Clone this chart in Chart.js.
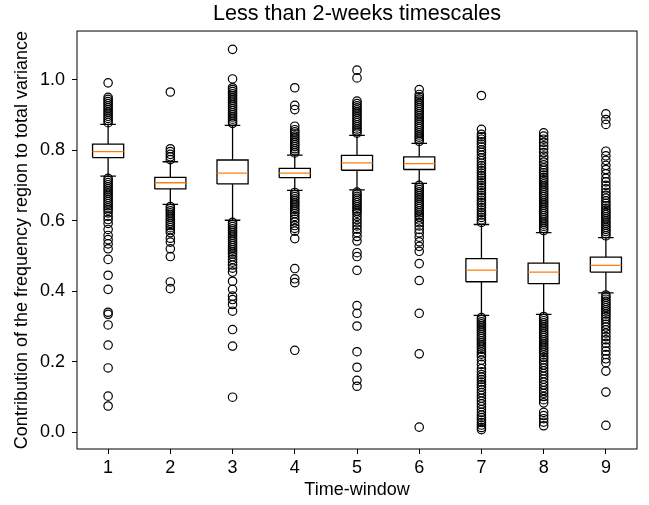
<!DOCTYPE html>
<html>
<head>
<meta charset="utf-8">
<script src="https://cdn.jsdelivr.net/npm/chart.js@4"></script>
<style>
body { margin: 0; background: #fff; }
#wrap { width: 649px; height: 505px; }
</style>
</head>
<body>
<div id="wrap"><canvas id="boxChart"></canvas></div>
<script>
// time windows and box statistics
const windows = [1, 2, 3, 4, 5, 6, 7, 8, 9];
const q1 = [0.779, 0.690, 0.704, 0.722, 0.743, 0.745, 0.4265, 0.421, 0.454];
const medians = [0.796, 0.7075, 0.735, 0.735, 0.764, 0.762, 0.4597, 0.454, 0.473];
const q3 = [0.817, 0.7225, 0.772, 0.748, 0.785, 0.781, 0.492, 0.4795, 0.4965];
const whiskerLow = [0.726, 0.646, 0.601, 0.686, 0.687, 0.7055, 0.331, 0.334, 0.395];
const whiskerHigh = [0.873, 0.767, 0.870, 0.786, 0.842, 0.819, 0.589, 0.566, 0.5515];
const yTicks = [0.0, 0.2, 0.4, 0.6, 0.8, 1.0];

// outliers per window (dense clusters estimated)
const fliers = [
  [0.878,0.884,0.890,0.896,0.902,0.908,0.914,0.920,0.926,0.932,0.938,0.944,0.950,0.991,
   0.720,0.714,0.708,0.702,0.696,0.690,0.684,0.678,0.672,0.666,0.660,0.654,0.648,0.642,0.636,0.630,
   0.622,0.612,0.603,0.592,0.575,0.558,0.546,0.534,0.520,0.490,0.445,0.405,0.340,0.334,0.304,0.247,0.182,0.102,0.074],
  [0.773,0.781,0.788,0.796,0.804,0.965,
   0.640,0.634,0.628,0.622,0.616,0.610,0.604,0.598,0.592,0.586,0.580,0.574,0.566,0.550,0.539,0.520,0.498,0.426,0.407],
  [0.876,0.882,0.888,0.894,0.900,0.906,0.912,0.918,0.924,0.930,0.936,0.942,0.948,0.954,0.960,0.966,0.972,0.977,1.002,1.086,
   0.595,0.589,0.583,0.577,0.571,0.565,0.559,0.553,0.547,0.541,0.535,0.529,0.523,0.517,0.511,0.505,0.498,0.490,0.482,0.474,
   0.465,0.454,0.428,0.405,0.386,0.376,0.362,0.343,0.291,0.244,0.099],
  [0.792,0.798,0.804,0.810,0.816,0.822,0.828,0.834,0.840,0.846,0.852,0.858,0.868,0.915,0.927,0.977,
   0.680,0.674,0.668,0.662,0.656,0.650,0.644,0.638,0.632,0.626,0.620,0.612,0.604,0.596,0.586,0.578,0.570,0.549,0.464,0.435,0.424,0.232],
  [0.848,0.854,0.860,0.866,0.872,0.878,0.884,0.890,0.896,0.902,0.908,0.914,0.920,0.926,0.932,0.939,1.005,1.027,
   0.681,0.675,0.669,0.663,0.657,0.651,0.645,0.639,0.633,0.627,0.621,0.612,0.603,0.594,0.585,0.576,0.566,0.555,0.542,
   0.509,0.498,0.459,0.359,0.337,0.301,0.228,0.184,0.147,0.130],
  [0.825,0.831,0.837,0.843,0.849,0.855,0.861,0.867,0.873,0.879,0.885,0.891,0.897,0.903,0.909,0.915,0.921,0.927,0.933,0.939,0.945,0.951,0.958,0.972,
   0.700,0.694,0.688,0.682,0.676,0.670,0.664,0.658,0.652,0.646,0.640,0.634,0.628,0.622,0.616,0.610,0.602,0.594,0.585,0.575,0.565,0.553,0.540,0.527,0.513,
   0.478,0.430,0.337,0.222,0.014],
  [0.595,0.602,0.609,0.616,0.623,0.630,0.637,0.644,0.651,0.658,0.665,0.672,0.679,0.686,0.693,0.700,0.707,0.714,0.721,0.728,0.735,0.742,0.749,0.756,
   0.763,0.770,0.778,0.786,0.794,0.801,0.809,0.817,0.824,0.831,0.838,0.845,0.859,0.955,
   0.325,0.319,0.313,0.307,0.301,0.295,0.289,0.283,0.277,0.271,0.265,0.259,0.253,0.247,0.241,0.235,0.228,0.221,0.214,0.204,0.192,0.180,0.171,0.163,
   0.156,0.149,0.142,0.135,0.128,0.120,0.112,0.104,0.096,0.088,0.080,0.072,0.064,0.056,0.048,0.041,0.034,0.027,0.020,0.013,0.007],
  [0.572,0.578,0.584,0.590,0.596,0.602,0.608,0.614,0.620,0.626,0.632,0.638,0.644,0.650,0.656,0.662,0.668,0.674,0.680,0.686,0.692,0.698,0.704,0.710,
   0.716,0.722,0.729,0.736,0.743,0.750,0.758,0.766,0.775,0.783,0.793,0.803,0.812,0.822,0.831,0.840,0.849,
   0.328,0.322,0.316,0.310,0.304,0.298,0.292,0.286,0.280,0.274,0.268,0.262,0.256,0.250,0.244,0.238,0.232,0.226,0.219,0.212,0.205,0.198,0.190,0.182,
   0.174,0.166,0.158,0.150,0.142,0.134,0.126,0.118,0.110,0.101,0.092,0.083,0.056,0.047,0.038,0.028,0.018],
  [0.557,0.563,0.569,0.575,0.581,0.587,0.593,0.599,0.605,0.611,0.617,0.623,0.629,0.635,0.642,0.649,0.656,0.664,0.672,0.680,0.690,0.700,0.710,0.720,
   0.733,0.745,0.757,0.771,0.784,0.797,0.873,0.887,0.903,
   0.389,0.383,0.377,0.371,0.365,0.359,0.353,0.347,0.341,0.335,0.328,0.321,0.314,0.306,0.298,0.290,0.281,0.271,0.262,0.252,0.241,0.230,0.220,0.208,
   0.197,0.173,0.1135,0.019]
];

const boxHalf = 0.25;
const capHalf = 0.125;

// build line paths in data units, split by nulls
const boxPts = [], whiskerPts = [], medianPts = [], flierPts = [];
windows.forEach((x, i) => {
  boxPts.push({x: x - boxHalf, y: q1[i]}, {x: x + boxHalf, y: q1[i]}, {x: x + boxHalf, y: q3[i]},
              {x: x - boxHalf, y: q3[i]}, {x: x - boxHalf, y: q1[i]}, {x: x, y: null});
  whiskerPts.push({x: x, y: q1[i]}, {x: x, y: whiskerLow[i]}, {x: x, y: null},
                  {x: x, y: q3[i]}, {x: x, y: whiskerHigh[i]}, {x: x, y: null},
                  {x: x - capHalf, y: whiskerLow[i]}, {x: x + capHalf, y: whiskerLow[i]}, {x: x, y: null},
                  {x: x - capHalf, y: whiskerHigh[i]}, {x: x + capHalf, y: whiskerHigh[i]}, {x: x, y: null});
  medianPts.push({x: x - boxHalf, y: medians[i]}, {x: x + boxHalf, y: medians[i]}, {x: x, y: null});
  fliers[i].forEach(v => flierPts.push({x: x, y: v}));
});

const lineSet = (data, color) => ({
  data, showLine: true, borderColor: color, borderWidth: 1.3,
  pointRadius: 0, tension: 0, spanGaps: false, fill: false
});

const framePlugin = {
  id: 'frame',
  afterDatasetsDraw(chart) {
    const {ctx, chartArea: a} = chart;
    ctx.save();
    ctx.strokeStyle = '#000';
    ctx.lineWidth = 1;
    ctx.strokeRect(a.left, a.top, a.right - a.left, a.bottom - a.top);
    ctx.restore();
  }
};

const font = {family: '"Liberation Sans", Arial, sans-serif', size: 18};

new Chart(document.getElementById('boxChart'), {
  type: 'scatter',
  data: {
    datasets: [
      {
        data: flierPts, pointStyle: 'circle', pointRadius: 4.2, pointHoverRadius: 4.2,
        pointBorderWidth: 1.2, borderColor: '#000', backgroundColor: 'rgba(0,0,0,0)'
      },
      lineSet(medianPts, '#ff7f0e'),
      lineSet(whiskerPts, '#000'),
      lineSet(boxPts, '#000')
    ]
  },
  options: {
    responsive: true,
    maintainAspectRatio: false,
    animation: false,
    layout: {padding: {top: 0, right: 12, bottom: 0, left: 0}},
    plugins: {
      legend: {display: false},
      tooltip: {enabled: false},
      title: {
        display: true,
        text: 'Less than 2-weeks timescales',
        color: '#000',
        fullSize: false,
        font: {family: font.family, size: 21.6, weight: 'normal'},
        padding: {top: 1, bottom: 4.1}
      }
    },
    scales: {
      x: {
        type: 'linear', min: 0.5, max: 9.5,
        afterBuildTicks: s => { s.ticks = windows.map(v => ({value: v})); },
        afterFit: s => { s.height = 56; },
        grid: {display: true, drawOnChartArea: false, drawTicks: true, tickLength: 5, color: '#000'},
        border: {display: false},
        ticks: {color: '#000', font, padding: 3, maxRotation: 0, callback: v => String(v)},
        title: {display: true, text: 'Time-window', color: '#000', font, padding: {top: 0, bottom: 4.2}}
      },
      y: {
        type: 'linear', min: -0.048, max: 1.138,
        afterBuildTicks: s => { s.ticks = yTicks.map(v => ({value: v})); },
        afterFit: s => { s.width = 77; },
        grid: {display: true, drawOnChartArea: false, drawTicks: true, tickLength: 5, color: '#000'},
        border: {display: false},
        ticks: {color: '#000', font, padding: 7, callback: v => v.toFixed(1)},
        title: {
          display: true, text: 'Contribution of the frequency region to total variance',
          color: '#000', font, padding: {top: 11.7, bottom: 0}
        }
      }
    }
  },
  plugins: [framePlugin]
});
</script>
</body>
</html>
